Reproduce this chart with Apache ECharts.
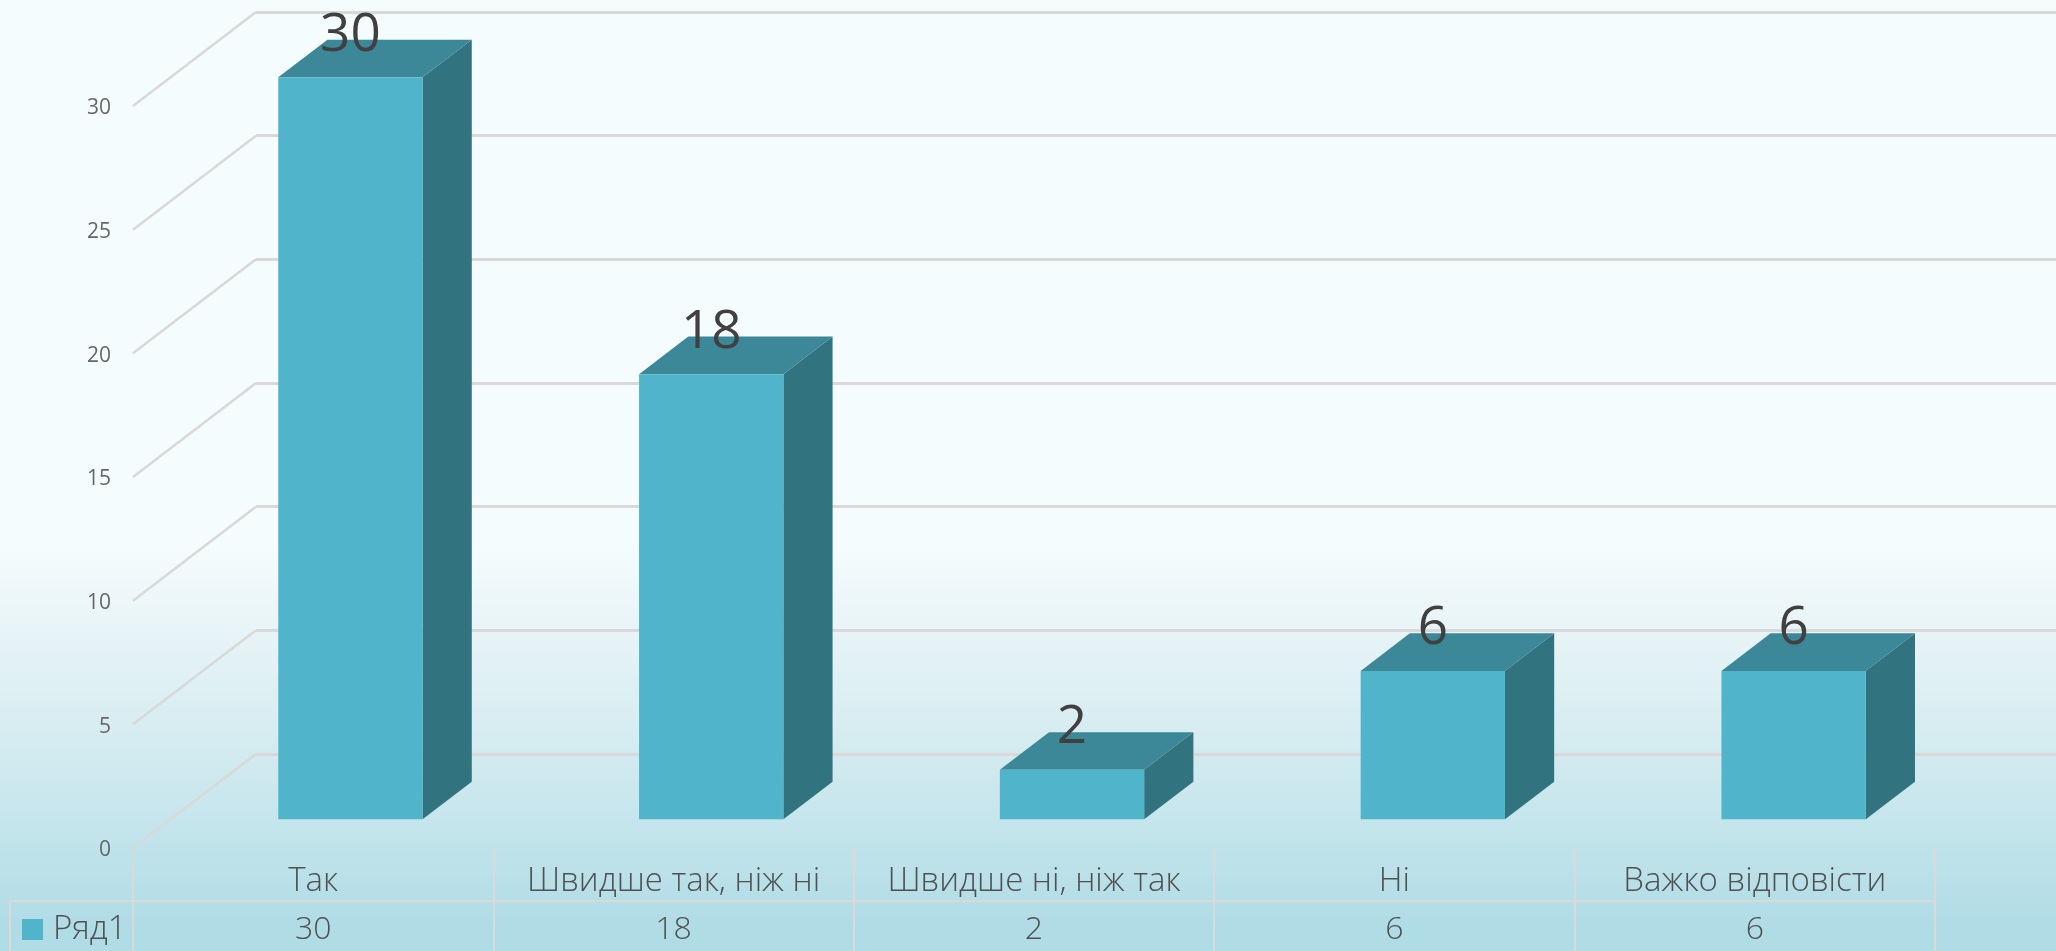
<!DOCTYPE html>
<html>
<head>
<meta charset="utf-8">
<script src="https://cdn.jsdelivr.net/npm/echarts@6/dist/echarts.min.js"></script>
<style>
  html, body { margin: 0; padding: 0; }
  #chart { width: 2056px; height: 951px; }
</style>
</head>
<body>
<div id="chart"></div>
<script>
const categories = ['Так', 'Швидше так, ніж ні', 'Швидше ні, ніж так', 'Ні', 'Важко відповісти'];
const seriesName = 'Ряд1';
const seriesValues = [30, 18, 2, 6, 6];
const yTicks = [0, 5, 10, 15, 20, 25, 30];

const fontFamily = '"Open Sans", sans-serif';
const gridColor = '#d9d9d9';
const textColor = '#505050';

// the floor goes back by this many pixels, bars stand part way into it
const wallX = 123;
const wallY = 94;
const barNear = 0.305;
const barFar = 0.705;
const barWidth = 0.4;

function renderBar(params, api) {
  const center = api.coord([api.value(0), 0]);
  const top = api.coord([api.value(0), api.value(1)]);
  const half = api.size([1, 0])[0] * barWidth / 2;
  const pt = (x, y, depth) => [x + depth * wallX, y - depth * wallY];
  const x0 = center[0] - half;
  const x1 = center[0] + half;
  const frontShape = [pt(x0, center[1], barNear), pt(x1, center[1], barNear), pt(x1, top[1], barNear), pt(x0, top[1], barNear)];
  const sideShape = [pt(x1, center[1], barNear), pt(x1, center[1], barFar), pt(x1, top[1], barFar), pt(x1, top[1], barNear)];
  const topShape = [pt(x0, top[1], barNear), pt(x1, top[1], barNear), pt(x1, top[1], barFar), pt(x0, top[1], barFar)];
  const labelPos = pt(center[0], top[1], barFar);
  return {
    type: 'group',
    children: [
      { type: 'polygon', shape: { points: sideShape }, style: { fill: '#31737f' } },
      { type: 'polygon', shape: { points: topShape }, style: { fill: '#3c8898' } },
      { type: 'polygon', shape: { points: frontShape }, style: { fill: '#50b4ca' } },
      {
        type: 'text',
        x: pt(center[0], 0, barNear)[0],
        y: labelPos[1] - 4,
        style: {
          text: String(api.value(1)),
          font: '53px ' + fontFamily,
          fill: '#404040',
          align: 'center',
          verticalAlign: 'middle'
        }
      }
    ]
  };
}

function renderWall(params, api) {
  const start = api.coord([0, api.value(1)]);
  const x = params.coordSys.x;
  return {
    type: 'line',
    shape: { x1: x, y1: start[1], x2: x + wallX, y2: start[1] - wallY },
    style: { stroke: gridColor, lineWidth: 2.5 }
  };
}

const option = {
  animation: false,
  backgroundColor: {
    type: 'linear', x: 0, y: 0, x2: 0, y2: 1,
    colorStops: [
      { offset: 0, color: '#f5fcfd' },
      { offset: 0.574, color: '#f5fcfd' },
      { offset: 0.663, color: '#e8f4f7' },
      { offset: 0.79, color: '#d3ebf0' },
      { offset: 0.975, color: '#b0dce6' },
      { offset: 1, color: '#b0dce6' }
    ]
  },
  legend: {
    data: [seriesName],
    left: 22,
    top: 913,
    padding: 0,
    itemWidth: 21,
    itemHeight: 21,
    itemGap: 0,
    icon: 'rect',
    textStyle: { color: textColor, fontSize: 33, fontWeight: 300, fontFamily: fontFamily, padding: [0, 0, 0, 5] }
  },
  grid: [
    { left: 256, right: 0, top: 12, height: 742 },       // back wall
    { left: 133, width: 1802, top: 106, height: 742 },   // front plane and table
    { left: 132.5, width: 1804, top: 106, height: 742 }, // bars run a little wider than the table
    { left: 133, width: 1802, top: 108.5, height: 742 }  // y labels sit just under their ticks
  ],
  xAxis: [
    { gridIndex: 0, type: 'category', data: categories, show: false },
    {
      gridIndex: 1,
      type: 'category',
      data: categories,
      axisLine: { show: false },
      axisTick: { show: true, length: 103, lineStyle: { color: gridColor, width: 2 } },
      axisLabel: { interval: 0, margin: 17, color: textColor, fontSize: 33, fontWeight: 300, fontFamily: fontFamily }
    },
    {
      gridIndex: 1,
      type: 'category',
      position: 'bottom',
      offset: 53,
      data: seriesValues.map(String),
      axisLine: { show: true, lineStyle: { color: gridColor, width: 2 } },
      axisTick: { show: false },
      axisLabel: { interval: 0, margin: 13, color: textColor, fontSize: 32, fontWeight: 300, fontFamily: fontFamily }
    },
    { gridIndex: 2, type: 'category', data: categories, show: false },
    { gridIndex: 3, type: 'category', data: categories, show: false }
  ],
  yAxis: [
    {
      gridIndex: 0,
      type: 'value',
      min: 0,
      max: 30,
      interval: 5,
      axisLabel: { show: false },
      axisLine: { show: false },
      axisTick: { show: false },
      splitLine: { lineStyle: { color: gridColor, width: 3 } }
    },
    { gridIndex: 1, type: 'value', min: 0, max: 30, interval: 5, show: false },
    { gridIndex: 2, type: 'value', min: 0, max: 30, interval: 5, show: false },
    {
      gridIndex: 3,
      type: 'value',
      min: 0,
      max: 30,
      interval: 5,
      axisLine: { show: false },
      axisTick: { show: false },
      splitLine: { show: false },
      axisLabel: { margin: 22, color: '#676767', fontSize: 21, fontFamily: fontFamily }
    }
  ],
  series: [
    {
      name: 'wall',
      type: 'custom',
      xAxisIndex: 1,
      yAxisIndex: 1,
      silent: true,
      clip: false,
      renderItem: renderWall,
      encode: { x: 0, y: 1 },
      data: yTicks.map(v => [0, v])
    },
    {
      name: seriesName,
      type: 'custom',
      xAxisIndex: 3,
      yAxisIndex: 2,
      clip: false,
      itemStyle: { color: '#50b4ca' },
      renderItem: renderBar,
      encode: { x: 0, y: 1 },
      data: seriesValues.map((v, i) => [i, v])
    }
  ],
  // table frame left of the first column
  graphic: [
    { type: 'line', silent: true, shape: { x1: 10, y1: 901, x2: 133, y2: 901 }, style: { stroke: gridColor, lineWidth: 2 } },
    { type: 'line', silent: true, shape: { x1: 10, y1: 901, x2: 10, y2: 951 }, style: { stroke: gridColor, lineWidth: 2 } }
  ]
};

const myChart = echarts.init(document.getElementById('chart'));
myChart.setOption(option);
</script>
</body>
</html>
